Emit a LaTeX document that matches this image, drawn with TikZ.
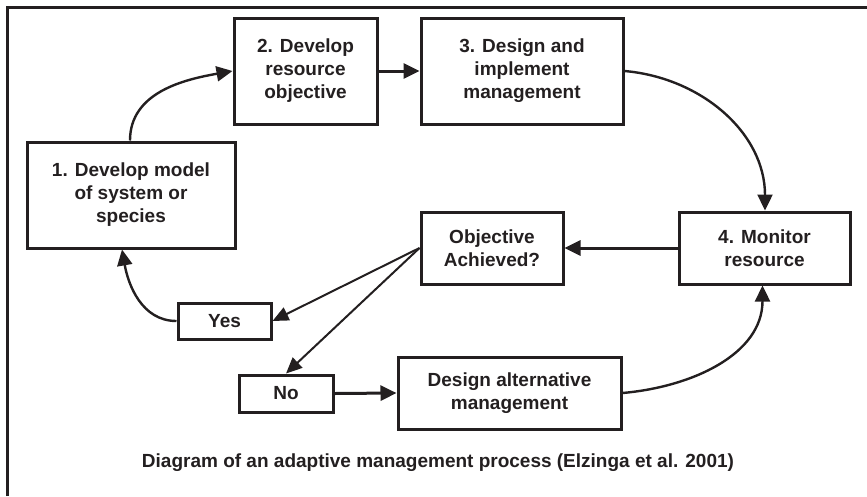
\documentclass[tikz,border=0pt]{standalone}
\usepackage{fontspec}
\setmainfont{Liberation Sans}
\usetikzlibrary{arrows.meta}
\definecolor{ink}{RGB}{35,31,32}
\begin{document}
\begin{tikzpicture}[x=1pt,y=1pt,
  box/.style={draw=ink,line width=3pt,text=ink,inner sep=0pt,align=center,
    font=\fontsize{19}{23}\selectfont\bfseries},
  arr/.style={draw=ink,line width=3pt,-{Triangle[length=16pt,width=15pt]}},
  carr/.style={draw=ink,line width=2.4pt,-{Triangle[length=16pt,width=15pt]}},
  tarr/.style={draw=ink,line width=2pt,-{Triangle[length=16pt,width=14pt]}}]
\useasboundingbox (0,0) rectangle (867,-496);
\draw[ink,line width=3pt] (7,-496) -- (7,-7) -- (867,-7);
\node[box,minimum width=208,minimum height=106] (b1) at (131,-195) {1. Develop model\\of system or\\species};
\node[box,minimum width=143,minimum height=106] (b2) at (305.5,-71) {2. Develop\\resource\\objective};
\node[box,minimum width=202,minimum height=106] (b3) at (522,-71) {3. Design and\\implement\\management};
\node[box,minimum width=171,minimum height=72] (b4) at (764.5,-248) {4. Monitor\\resource};
\node[box,minimum width=142,minimum height=72] (obj) at (492,-248) {Objective\\Achieved?};
\node[box,minimum width=93,minimum height=36] (yes) at (224.5,-321) {Yes};
\node[box,minimum width=94,minimum height=37] (no) at (286,-393.5) {No};
\node[box,minimum width=223,minimum height=72] (alt) at (509.5,-393) {Design alternative\\management};
\node[text=ink,inner sep=0pt,font=\fontsize{19}{23}\selectfont\bfseries] (cap) at (438,-463) {Diagram of an adaptive management process (Elzinga et al. 2001)};
\draw[carr] ([xshift=-1pt]b1.north) to[out=90,in=190] (b2.west);
\draw[arr] (b2.east) -- (b3.west);
\draw[carr] (b3.east) to[out=-5,in=90] ([xshift=0.5pt]b4.north);
\draw[arr] (b4.west) -- (obj.east);
\draw[tarr] (obj.west) -- (yes.east);
\draw[tarr] (obj.west) -- (no.north);
\draw[arr] (no.east) -- (alt.west);
\draw[carr] (alt.east) to[out=5,in=-90] ([xshift=-2pt]b4.south);
\draw[carr] (yes.west) to[out=180,in=-80] ([xshift=-9pt]b1.south);
\end{tikzpicture}
\end{document}
